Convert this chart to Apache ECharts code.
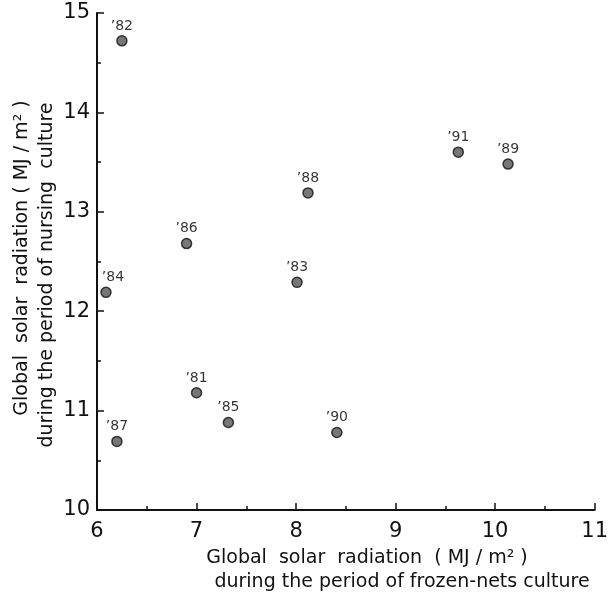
<!DOCTYPE html>
<html lang="en">
<head>
    <meta charset="UTF-8">
    <title>Global solar radiation</title>
    <script type="text/javascript" src="https://cdn.jsdelivr.net/npm/echarts@6/dist/echarts.min.js"></script>
    <style>
        body { margin: 0; background: #fff; }
    </style>
</head>
<body>
<div id="main" style="width: 611px;height:594px;"></div>

<script>
    // data
    var years = ['82', '91', '89', '88', '86', '83', '84', '81', '85', '90', '87'];
    var frozenNets = [6.25, 9.63, 10.13, 8.12, 6.90, 8.01, 6.09, 7.00, 7.32, 8.41, 6.20];
    var nursing = [14.72, 13.60, 13.48, 13.19, 12.68, 12.29, 12.19, 11.18, 10.88, 10.78, 10.69];
    var xTicks = [6, 7, 8, 9, 10, 11];
    var yTicks = [10, 11, 12, 13, 14, 15];

    var points = [];
    for (var i = 0; i < years.length; i++) {
        var p = { value: [frozenNets[i], nursing[i]], name: '\u2019' + years[i] };
        // '84 sits against the axis, its label is pushed right in the original
        if (years[i] === '84') p.label = { offset: [7, 0] };
        points.push(p);
    }

    var font = 'DejaVu Sans';
    var myChart = echarts.init(document.getElementById('main'));
    myChart.setOption({
        animation: false,
        grid: { left: 97, right: 16, top: 13, bottom: 84 },
        xAxis: {
            type: 'value',
            min: xTicks[0], max: xTicks[xTicks.length - 1], interval: 1,
            axisLine: { lineStyle: { color: '#111', width: 2 } },
            axisTick: { inside: true, length: 7, lineStyle: { color: '#111', width: 1.5 } },
            minorTick: { show: true, splitNumber: 2, length: 4, lineStyle: { color: '#111', width: 1.5 } },
            axisLabel: { color: '#111', fontSize: 21, fontFamily: font, margin: 11 },
            splitLine: { show: false }
        },
        yAxis: {
            type: 'value',
            min: yTicks[0], max: yTicks[yTicks.length - 1], interval: 1,
            axisLine: { show: true, lineStyle: { color: '#111', width: 2 } },
            axisTick: { show: true, inside: true, length: 7, lineStyle: { color: '#111', width: 1.5 } },
            minorTick: { show: true, splitNumber: 2, length: 4, lineStyle: { color: '#111', width: 1.5 } },
            axisLabel: { color: '#111', fontSize: 21, fontFamily: font, margin: 7 },
            splitLine: { show: false }
        },
        series: [{
            type: 'scatter',
            data: points,
            symbolSize: 10,
            itemStyle: { color: '#555', borderColor: '#111', borderWidth: 1.5 },
            label: {
                show: true,
                position: 'top',
                distance: 2,
                formatter: '{b}',
                color: '#000',
                fontSize: 14,
                fontFamily: font
            }
        }],
        graphic: [
            {
                type: 'text', x: 367, y: 558,
                style: { text: 'Global  solar  radiation  ( MJ / m\u00B2 )', fill: '#111', fontSize: 19, fontFamily: font, align: 'center', verticalAlign: 'middle' }
            },
            {
                type: 'text', x: 402, y: 582,
                style: { text: 'during the period of frozen-nets culture', fill: '#111', fontSize: 19, fontFamily: font, align: 'center', verticalAlign: 'middle' }
            },
            {
                type: 'text', x: 22, y: 258, rotation: Math.PI / 2,
                style: { text: 'Global  solar  radiation ( MJ / m\u00B2 )', fill: '#111', fontSize: 19, fontFamily: font, align: 'center', verticalAlign: 'middle' }
            },
            {
                type: 'text', x: 47, y: 275, rotation: Math.PI / 2,
                style: { text: 'during the period of nursing  culture', fill: '#111', fontSize: 19, fontFamily: font, align: 'center', verticalAlign: 'middle' }
            }
        ]
    });
</script>
</body>
</html>
